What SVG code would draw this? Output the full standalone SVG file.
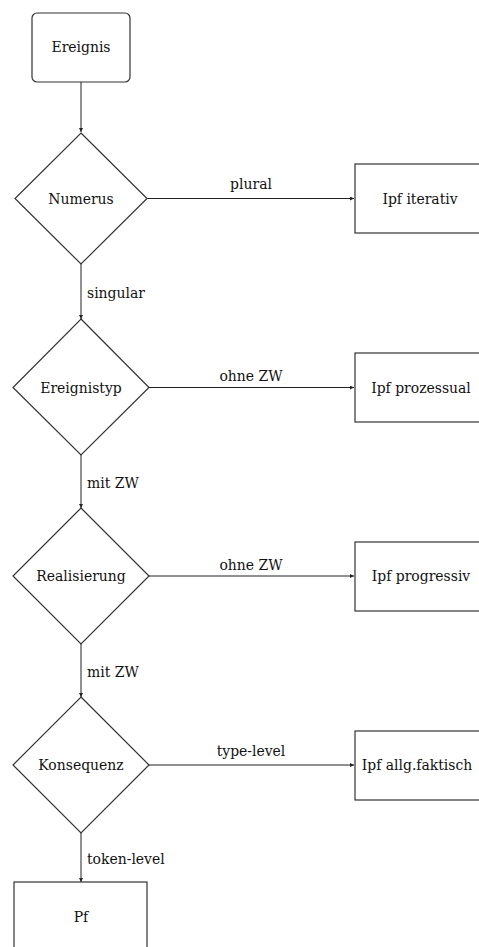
<svg xmlns="http://www.w3.org/2000/svg" width="479" height="947" viewBox="0 0 479 947">
  <style>
    .shape { fill: #ffffff; stroke: #333333; stroke-width: 1.2; }
    .edge { fill: none; stroke: #222222; stroke-width: 1; }
    text { font-family: "DejaVu Serif Condensed", "DejaVu Serif", serif; font-stretch: condensed; font-size: 15.5px; fill: #111111; }
    .c { text-anchor: middle; }
  </style>
  <defs>
    <marker id="arrow" viewBox="0 0 6 6" refX="6" refY="3" markerWidth="4" markerHeight="4" orient="auto" markerUnits="userSpaceOnUse">
      <path d="M0,0 L6,3 L0,6 z" fill="#222222"/>
    </marker>
  </defs>
  <rect width="479" height="947" fill="#ffffff"/>

  <!-- connectors -->
  <g id="connectors">
    <line class="edge" x1="81" y1="82" x2="81" y2="132" marker-end="url(#arrow)"/>
    <line class="edge" x1="147" y1="198.5" x2="354" y2="198.5" marker-end="url(#arrow)"/>
    <text class="c" x="251" y="189">plural</text>
    <line class="edge" x1="81" y1="264" x2="81" y2="319" marker-end="url(#arrow)"/>
    <text x="87" y="298">singular</text>

    <line class="edge" x1="149" y1="387.5" x2="354" y2="387.5" marker-end="url(#arrow)"/>
    <text class="c" x="251" y="381">ohne ZW</text>
    <line class="edge" x1="81" y1="455" x2="81" y2="508" marker-end="url(#arrow)"/>
    <text x="87" y="488">mit ZW</text>

    <line class="edge" x1="149" y1="576" x2="354" y2="576" marker-end="url(#arrow)"/>
    <text class="c" x="251" y="570">ohne ZW</text>
    <line class="edge" x1="81" y1="644" x2="81" y2="697" marker-end="url(#arrow)"/>
    <text x="87" y="677">mit ZW</text>

    <line class="edge" x1="149" y1="765" x2="354" y2="765" marker-end="url(#arrow)"/>
    <text class="c" x="251" y="756">type-level</text>
    <line class="edge" x1="81" y1="833" x2="81" y2="882" marker-end="url(#arrow)"/>
    <text x="87" y="864">token-level</text>
  </g>

  <!-- nodes -->
  <g id="ereignis">
    <rect class="shape" x="32" y="13" width="98" height="69" rx="5"/>
    <text class="c" x="81" y="52">Ereignis</text>
  </g>
  <g id="numerus">
    <polygon class="shape" points="81,133 147,198.5 81,264 15,198.5"/>
    <text class="c" x="81" y="204">Numerus</text>
  </g>
  <g id="ipf-iterativ">
    <rect class="shape" x="355" y="164" width="130" height="69"/>
    <text class="c" x="420" y="204">Ipf iterativ</text>
  </g>
  <g id="ereignistyp">
    <polygon class="shape" points="81,319 149,387.5 81,455 13,387.5"/>
    <text class="c" x="81" y="393">Ereignistyp</text>
  </g>
  <g id="ipf-prozessual">
    <rect class="shape" x="355" y="353" width="130" height="69"/>
    <text class="c" x="421" y="393">Ipf prozessual</text>
  </g>
  <g id="realisierung">
    <polygon class="shape" points="81,508 149,576 81,644 13,576"/>
    <text class="c" x="81" y="581">Realisierung</text>
  </g>
  <g id="ipf-progressiv">
    <rect class="shape" x="355" y="542" width="130" height="69"/>
    <text class="c" x="421" y="581">Ipf progressiv</text>
  </g>
  <g id="konsequenz">
    <polygon class="shape" points="81,697 149,765 81,833 13,765"/>
    <text class="c" x="81" y="770">Konsequenz</text>
  </g>
  <g id="ipf-allg-faktisch">
    <rect class="shape" x="355" y="731" width="130" height="69"/>
    <text class="c" x="417" y="770">Ipf allg.faktisch</text>
  </g>
  <g id="pf">
    <rect class="shape" x="14" y="882" width="133" height="75"/>
    <text class="c" x="81" y="922">Pf</text>
  </g>
</svg>
